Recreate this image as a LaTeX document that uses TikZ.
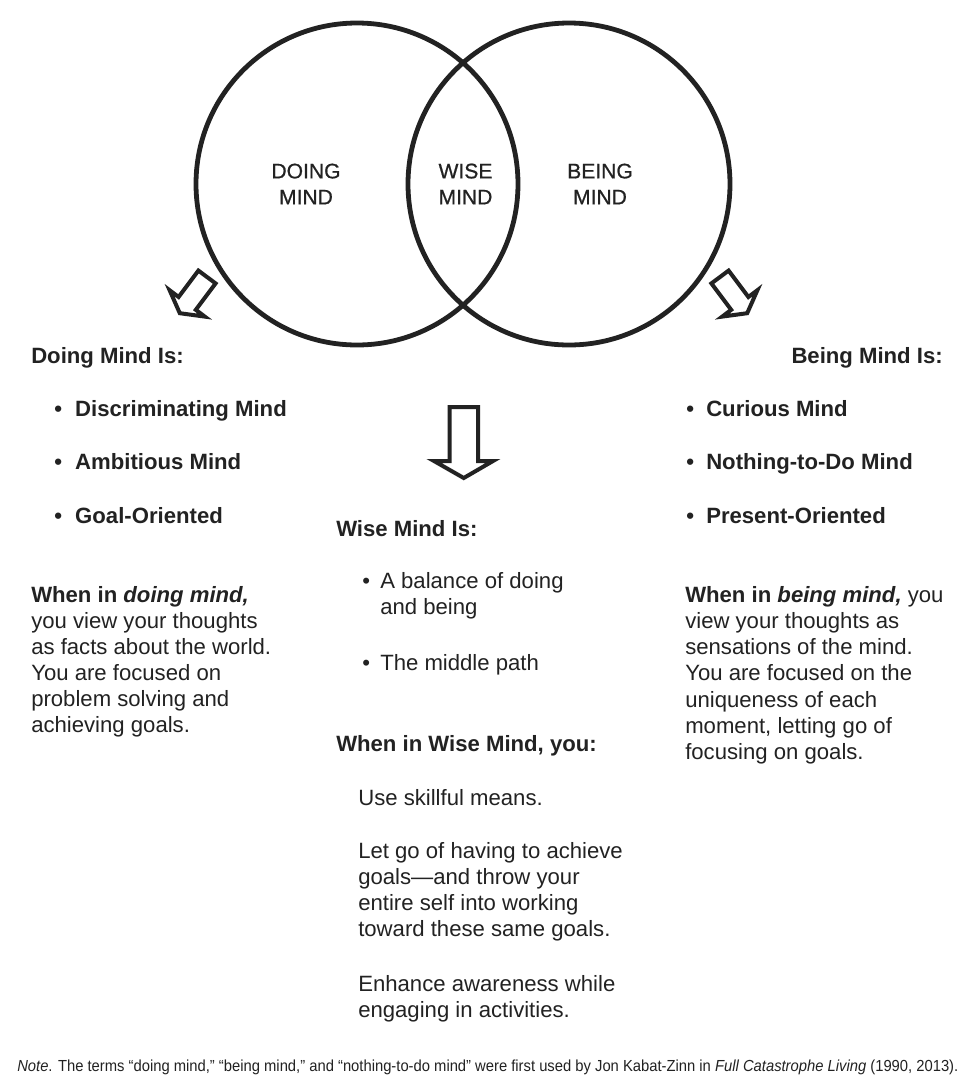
\documentclass[tikz,border=0pt]{standalone}
\usepackage{fontspec}
\setmainfont{Liberation Sans}
\newfontfamily\lblfont[FakeBold=0.7]{Liberation Sans}
\usepackage{graphicx}
\definecolor{ink}{HTML}{222222}
\begin{document}
\begin{tikzpicture}[x=0.75pt,y=-0.75pt,
  ring/.style={draw=ink, line width=3.6pt},
  blockarrow/.style={draw=ink, line width=3pt, line join=miter, fill=white},
  lbl/.style={font=\lblfont\fontsize{15.8}{19.5}\selectfont, align=center, inner sep=0, text=ink},
  txt/.style={font=\fontsize{16.6}{19.4}\selectfont, align=left, inner sep=0, anchor=base west, text=ink},
  txtr/.style={txt, anchor=base east, align=right},
  hd/.style={txt, font=\fontsize{16.6}{19.4}\selectfont\bfseries},
  bl/.style={txt, font=\fontsize{16.6}{19.4}\selectfont\bfseries}
]
\fill[white] (0,0) rectangle (972,1090);
\useasboundingbox (0,0) rectangle (972,1090);

% circles
\draw[ring] (357,184) circle[radius=161];
\draw[ring] (569,184) circle[radius=161];

% circle labels
\node[lbl] (doing) at (306,184) {DOING\\MIND};
\node[lbl] (wise) at (465.5,184) {WISE\\MIND};
\node[lbl] (being) at (600,184) {BEING\\MIND};

% block arrows
\draw[blockarrow] (198.4,270.6) -- (215.6,283.4) -- (195.8,309.8) -- (204.8,316.6)
  -- (179.8,313.2) -- (169.6,290.2) -- (178.6,297.0) -- cycle;
\draw[blockarrow] (728.6,270.6) -- (711.4,283.4) -- (731.2,309.8) -- (722.2,316.6)
  -- (747.2,313.2) -- (757.4,290.2) -- (748.4,297.0) -- cycle;
\draw[blockarrow] (449.5,407) -- (478,407) -- (478,461) -- (493,461)
  -- (463.75,478) -- (434,461) -- (449.5,461) -- cycle;

% left column (multi-line nodes are anchored at their last baseline)
\node[hd] (dhead) at (31,363) {Doing Mind Is:};
\node[bl] (d1) at (54,416) {\makebox[15.75pt][l]{•}Discriminating Mind};
\node[bl] (d2) at (54,469) {\makebox[15.75pt][l]{•}Ambitious Mind};
\node[bl] (d3) at (54,523) {\makebox[15.75pt][l]{•}Goal-Oriented};
\node[txt] (dpara) at (31,732.3) {\textbf{When in \textit{doing mind,}}\\you view your thoughts\\as facts about the world.\\You are focused on\\problem solving and\\achieving goals.};

% middle column
\node[hd] (whead) at (336,536) {Wise Mind Is:};
\node[txt, font=\fontsize{16.6}{18.8}\selectfont] (w1) at (362,614) {\makebox[13.5pt][l]{•}A balance of doing\\\hspace*{13.5pt}and being};
\node[txt] (w2) at (362,670) {\makebox[13.5pt][l]{•}The middle path};
\node[hd] (wwhen) at (336,751) {When in Wise Mind, you:};
\node[txt] (wu1) at (358,805) {Use skillful means.};
\node[txt, font=\fontsize{16.6}{19.7}\selectfont] (wu2) at (358,936.8) {Let go of having to achieve\\goals—and throw your\\entire self into working\\toward these same goals.};
\node[txt, font=\fontsize{16.6}{19.7}\selectfont] (wu3) at (358,1017.3) {Enhance awareness while\\engaging in activities.};

% right column
\node[txtr, font=\fontsize{16.6}{19.4}\selectfont\bfseries] (bhead) at (943,363) {Being Mind Is:};
\node[bl] (b1) at (686,416) {\makebox[15pt][l]{•}Curious Mind};
\node[bl] (b2) at (686,469) {\makebox[15pt][l]{•}Nothing-to-Do Mind};
\node[bl] (b3) at (686,523) {\makebox[15pt][l]{•}Present-Oriented};
\node[txt, font=\fontsize{16.6}{19.7}\selectfont] (bpara) at (685,759.6) {\textbf{When in \textit{being mind,}} you\\view your thoughts as\\sensations of the mind.\\You are focused on the\\uniqueness of each\\moment, letting go of\\focusing on goals.};

% footer
\node[txt, font=\fontsize{12}{13}\selectfont] (note) at (17,1071) {\resizebox{705.75pt}{\height}{\textit{Note}. The terms “doing mind,” “being mind,” and “nothing-to-do mind” were first used by Jon Kabat-Zinn in \textit{Full Catastrophe Living} (1990, 2013).}};
\end{tikzpicture}
\end{document}
